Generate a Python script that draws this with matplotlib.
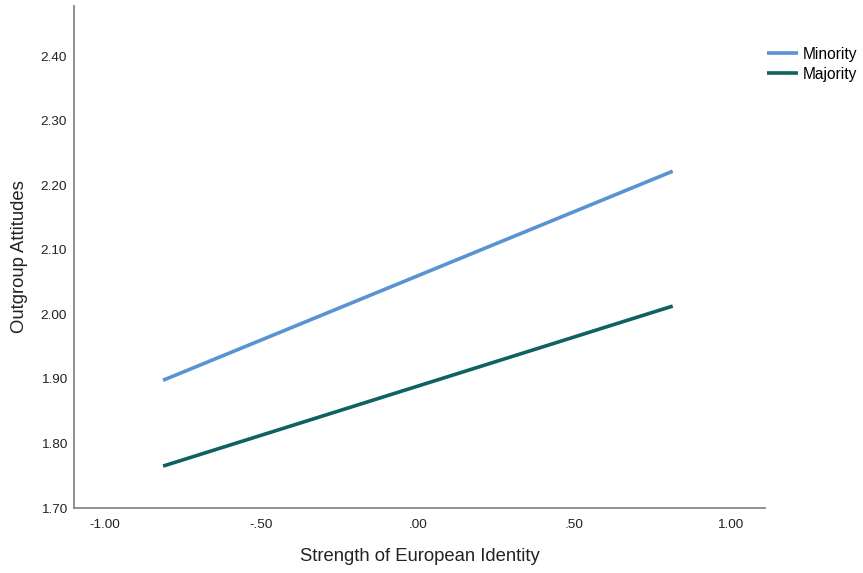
import matplotlib
matplotlib.use("Agg")
import matplotlib.pyplot as plt

plt.rcParams['font.family'] = ['Liberation Sans', 'DejaVu Sans']

x_vals = [-0.815, 0.815]
minority = [1.898, 2.222]
majority = [1.765, 2.013]
series_names = ["Minority", "Majority"]
colors = ["#5A93D2", "#0E625F"]
x_ticks = [-1.0, -0.5, 0.0, 0.5, 1.0]
x_tick_labels = ["-1.00", "-.50", ".00", ".50", "1.00"]
y_ticks = [1.7, 1.8, 1.9, 2.0, 2.1, 2.2, 2.3, 2.4]
y_tick_labels = ["1.70", "1.80", "1.90", "2.00", "2.10", "2.20", "2.30", "2.40"]

fig = plt.figure(figsize=(8.63, 5.73), dpi=100)
ax = fig.add_axes([0.0857, 0.1134, 0.8007, 0.8761])

lines = []
for vals, name, c in zip([minority, majority], series_names, colors):
    l, = ax.plot(x_vals, vals, color=c, lw=2.6, label=name, solid_capstyle='butt')
    lines.append(l)

ax.set_xlim(-1.1, 1.11)
ax.set_ylim(1.70, 2.478)
ax.set_xticks(x_ticks)
ax.set_xticklabels(x_tick_labels)
ax.set_yticks(y_ticks)
ax.set_yticklabels(y_tick_labels)
ax.tick_params(axis='both', length=0, labelsize=9.7, colors='#222222', pad=8)
ax.tick_params(axis='y', pad=5)

for s in ['top', 'right']:
    ax.spines[s].set_visible(False)
for s in ['left', 'bottom']:
    ax.spines[s].set_color('#888888')
    ax.spines[s].set_linewidth(1.3)

ax.set_xlabel("Strength of European Identity", fontsize=13.3, color='#222222', labelpad=12)
ax.set_ylabel("Outgroup Attitudes", fontsize=13.3, color='#222222', labelpad=9)

fig.legend(handles=lines, labels=series_names, loc='upper left',
           bbox_to_anchor=(0.8815, 0.929), frameon=False, fontsize=11.2,
           handlelength=2.0, handletextpad=0.3, labelspacing=0.3, borderaxespad=0)

fig.savefig("out.png", dpi=100, facecolor='white')
